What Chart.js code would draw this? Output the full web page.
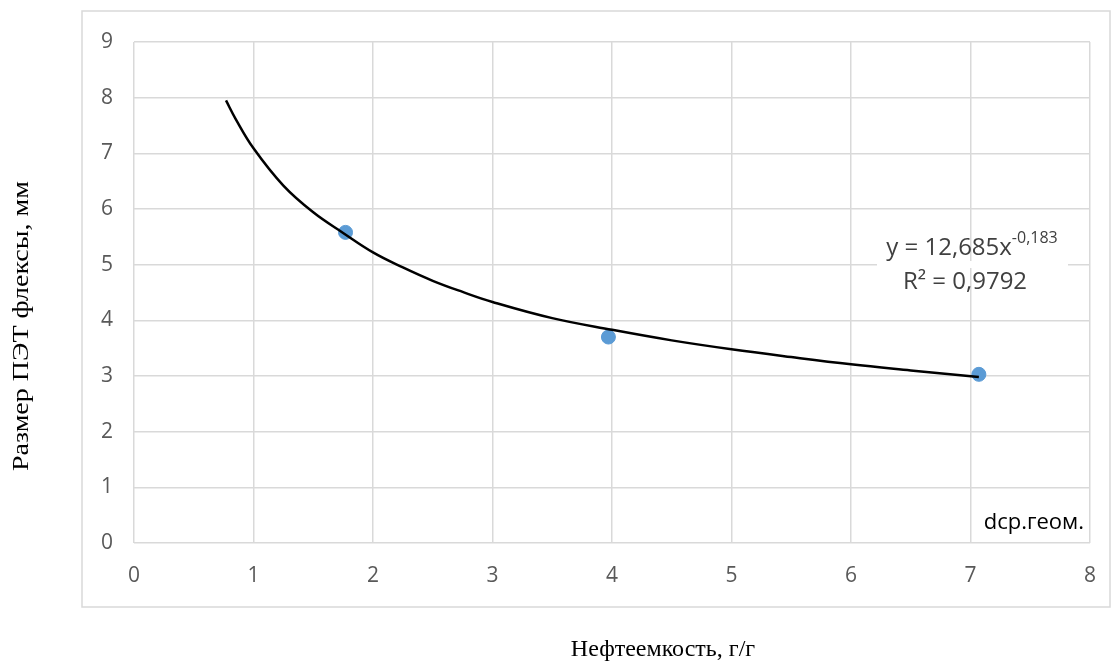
<!DOCTYPE html>
<html>
<head>
<meta charset="utf-8">
<script src="https://cdn.jsdelivr.net/npm/chart.js@4"></script>
<style>
  html, body { margin: 0; padding: 0; background: #fff; }
  #wrap { width: 1116px; height: 663px; position: relative; }
</style>
</head>
<body>
<div id="wrap"><canvas id="myChart"></canvas></div>
<script>
// измеренные точки
const pointsX = [1.77, 3.97, 7.07]
const pointsY = [5.58, 3.70, 3.03]

// линия тренда
const trendX = [0.77, 0.85, 1.0, 1.25, 1.5, 1.75, 2.0, 2.25, 2.5, 2.75, 3.0, 3.5, 4.0, 4.5, 5.0, 5.5, 6.0, 6.5, 7.07]
const trendY = [7.95, 7.62, 7.09, 6.42, 5.94, 5.57, 5.22, 4.95, 4.71, 4.51, 4.33, 4.04, 3.83, 3.64, 3.48, 3.34, 3.21, 3.10, 2.98]

const xMax = 8
const yMax = 9
const xTitle = 'Нефтеемкость, г/г'
const yTitle = 'Размер ПЭТ флексы, мм'
const eqMain = 'y = 12,685x'
const eqPow = '-0,183'
const r2Text = 'R² = 0,9792'
const seriesName = 'dcp.геом.'

const gridColor = '#d9d9d9'
const tickColor = '#595959'
const tickFont = { family: 'Open Sans', size: 21 }

const extras = {
  id: 'extras',
  beforeDraw(chart) {
    const c = chart.ctx
    c.save()
    c.fillStyle = '#fff'
    c.fillRect(0, 0, chart.width, chart.height)
    c.strokeStyle = gridColor
    c.lineWidth = 1.5
    c.strokeRect(82, 11, 1028, 596)
    c.restore()
  },
  beforeDatasetsDraw(chart) {
    const c = chart.ctx
    // белая подложка подписи уравнения
    c.save()
    c.fillStyle = '#fff'
    c.fillRect(877, 261, 191, 7)
    c.restore()
  },
  afterDraw(chart) {
    const c = chart.ctx
    c.save()
    c.fillStyle = '#000'
    c.font = '24px "Liberation Serif"'
    c.textAlign = 'center'
    c.textBaseline = 'middle'
    c.fillText(xTitle, 663, 650)
    c.font = '23px "Liberation Serif"'
    const wy = c.measureText(yTitle).width
    c.translate(22, 326)
    c.rotate(-Math.PI / 2)
    c.scale(290 / wy, 1)
    c.fillText(yTitle, 0, 0)
    c.restore()

    c.save()
    c.fillStyle = '#404040'
    c.font = '24px "Open Sans"'
    c.textBaseline = 'alphabetic'
    c.textAlign = 'left'
    const w1 = c.measureText(eqMain).width
    c.font = '16px "Open Sans"'
    const w2 = c.measureText(eqPow).width
    const x0 = 972 - (w1 + w2) / 2
    c.font = '24px "Open Sans"'
    c.fillText(eqMain, x0, 255)
    c.font = '16px "Open Sans"'
    c.fillText(eqPow, x0 + w1, 243)
    c.font = '24px "Open Sans"'
    c.textAlign = 'center'
    c.fillText(r2Text, 965, 289)
    c.fillStyle = '#000'
    c.font = '22px "Open Sans"'
    c.textAlign = 'right'
    c.fillText(seriesName, 1084, 529)
    c.restore()
  }
}

let ctx = document.getElementById('myChart')
let myChart = new Chart(ctx, {
  type: 'scatter',
  data: {
    datasets: [{
      label: 'тренд',
      data: trendX.map((x, i) => ({ x: x, y: trendY[i] })),
      showLine: true,
      borderColor: '#000',
      borderWidth: 2.5,
      pointRadius: 0,
      tension: 0.4
    }, {
      label: seriesName,
      data: pointsX.map((x, i) => ({ x: x, y: pointsY[i] })),
      backgroundColor: '#5b9bd5',
      borderColor: '#5b9bd5',
      pointRadius: 7,
      pointHoverRadius: 7
    }]
  },
  options: {
    responsive: true,
    maintainAspectRatio: false,
    animation: false,
    layout: { padding: { top: 42, right: 15, left: 0, bottom: 0 } },
    plugins: { legend: { display: false }, tooltip: { enabled: false } },
    scales: {
      x: {
        type: 'linear',
        min: 0, max: xMax,
        ticks: { stepSize: 1, color: tickColor, font: tickFont, padding: 20 },
        grid: { color: gridColor, lineWidth: 1.5, drawTicks: false },
        border: { display: false },
        afterFit: (s) => { s.height = 120 }
      },
      y: {
        min: 0, max: yMax,
        ticks: { stepSize: 1, color: tickColor, font: tickFont, padding: 21 },
        grid: { color: gridColor, lineWidth: 1.5, drawTicks: false },
        border: { display: false },
        afterFit: (s) => { s.width = 134 }
      }
    }
  },
  plugins: [extras]
})
</script>
</body>
</html>
